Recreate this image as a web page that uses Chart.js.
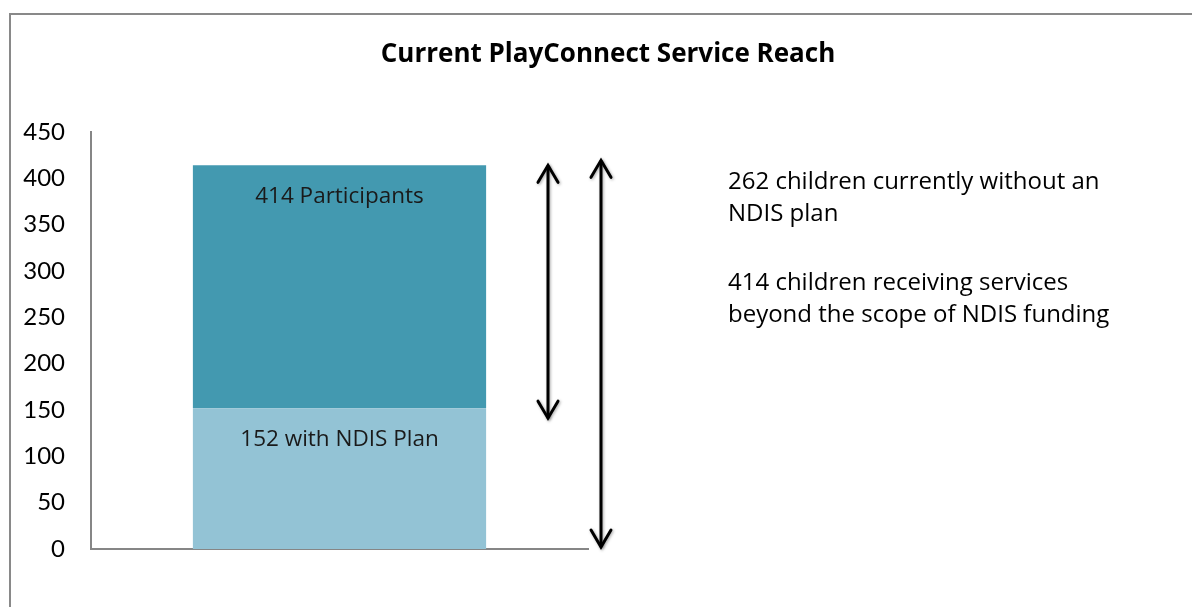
<!DOCTYPE html>
<html>
<head>
<meta charset="utf-8">
<script src="https://cdn.jsdelivr.net/npm/chart.js@4"></script>
<style>
  body { margin: 0; background: #fff; }
  #wrap { width: 1192px; height: 607px; position: relative; }
</style>
</head>
<body>
<div id="wrap"><canvas id="reachChart"></canvas></div>
<script>
const categories = ['Participants'];
const withPlan = [152];
const withoutPlan = [262];
const yMax = 450;
const yStep = 50;
const barLabels = ['152 with NDIS Plan', '414 Participants'];
const titleText = 'Current PlayConnect Service Reach';
const notes = [
  ['262 children currently without an', 'NDIS plan'],
  ['414 children receiving services', 'beyond the scope of NDIS funding']
];

const FONT = '"Open Sans", Lato, sans-serif';
const TICK_FONT = 'Lato, "Open Sans", sans-serif';

function drawArrow(ctx, x, yTop, yBottom) {
  ctx.save();
  ctx.strokeStyle = '#000';
  ctx.lineWidth = 3;
  ctx.lineCap = 'round';
  ctx.shadowColor = 'rgba(0,0,0,0.35)';
  ctx.shadowBlur = 3;
  ctx.shadowOffsetX = 1;
  ctx.shadowOffsetY = 1;
  ctx.beginPath();
  ctx.moveTo(x, yTop + 1);
  ctx.lineTo(x, yBottom - 1);
  ctx.stroke();
  ctx.beginPath();
  ctx.moveTo(x - 10, yTop + 17);
  ctx.lineTo(x, yTop);
  ctx.lineTo(x + 10, yTop + 17);
  ctx.stroke();
  ctx.beginPath();
  ctx.moveTo(x - 10, yBottom - 17);
  ctx.lineTo(x, yBottom);
  ctx.lineTo(x + 10, yBottom - 17);
  ctx.stroke();
  ctx.restore();
}

const extras = {
  id: 'extras',
  beforeDraw(chart) {
    const ctx = chart.ctx;
    ctx.save();
    ctx.strokeStyle = '#898989';
    ctx.lineWidth = 2;
    ctx.beginPath();
    ctx.moveTo(10, chart.height);
    ctx.lineTo(10, 14);
    ctx.lineTo(chart.width, 14);
    ctx.stroke();
    ctx.restore();
  },
  afterDraw(chart) {
    const ctx = chart.ctx;
    const y = chart.scales.y;
    const area = chart.chartArea;

    // title
    ctx.save();
    ctx.fillStyle = '#000';
    ctx.font = 'bold 26px ' + FONT;
    ctx.textAlign = 'center';
    ctx.textBaseline = 'middle';
    ctx.fillText(titleText, 608, 55);

    // labels inside the bar segments
    ctx.font = '22.5px ' + FONT;
    ctx.fillStyle = '#1a1a1a';
    chart.data.datasets.forEach((ds, i) => {
      const el = chart.getDatasetMeta(i).data[0];
      ctx.fillText(barLabels[i], el.x, el.y + 31);
    });

    // notes on the right
    ctx.font = '24px ' + FONT;
    ctx.fillStyle = '#000';
    ctx.textAlign = 'left';
    let ty = 182;
    notes.forEach(lines => {
      lines.forEach(line => {
        ctx.fillText(line, 728, ty);
        ty += 32;
      });
      ty += 37;
    });
    ctx.restore();

    // arrows
    const total = withPlan[0] + withoutPlan[0];
    drawArrow(ctx, area.right - 40, y.getPixelForValue(total), y.getPixelForValue(withPlan[0]) + 10);
    drawArrow(ctx, area.right + 13, y.getPixelForValue(total) - 5, y.getPixelForValue(0) - 2);
  }
};

new Chart(document.getElementById('reachChart').getContext('2d'), {
  type: 'bar',
  data: {
    labels: categories,
    datasets: [
      {
        label: 'With NDIS Plan',
        data: withPlan,
        backgroundColor: '#93C3D5',
        borderWidth: 0
      },
      {
        label: 'Without NDIS Plan',
        data: withoutPlan,
        backgroundColor: '#4399B0',
        borderWidth: 0
      }
    ]
  },
  options: {
    responsive: true,
    maintainAspectRatio: false,
    animation: false,
    layout: {
      padding: { top: 132, right: 604, bottom: 58, left: 0 }
    },
    datasets: {
      bar: { categoryPercentage: 1, barPercentage: 0.59 }
    },
    plugins: {
      legend: { display: false },
      title: { display: false },
      tooltip: { enabled: false }
    },
    scales: {
      x: {
        stacked: true,
        grid: { display: false, drawTicks: false },
        border: { display: true, color: '#868686', width: 2 },
        ticks: { display: false }
      },
      y: {
        stacked: true,
        min: 0,
        max: yMax,
        afterFit(scale) { scale.width = 91; },
        grid: { display: false, drawTicks: false },
        border: { display: true, color: '#868686', width: 2 },
        ticks: {
          stepSize: yStep,
          padding: 26,
          color: '#000',
          font: { family: TICK_FONT, size: 24 }
        }
      }
    }
  },
  plugins: [extras]
});
</script>
</body>
</html>
